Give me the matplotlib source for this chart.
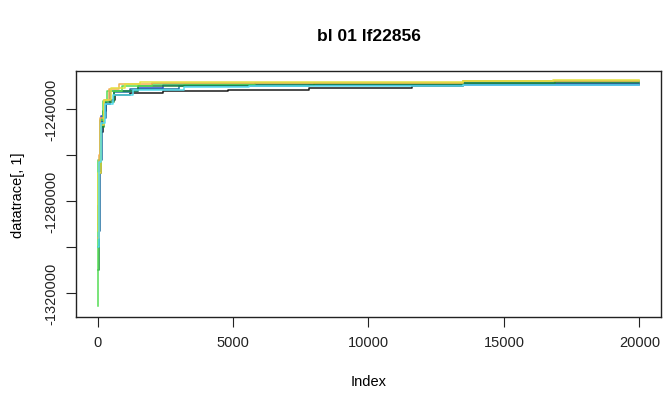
import matplotlib
matplotlib.use("Agg")
import matplotlib.pyplot as plt

# ---------------------------------------------------------------
# traces: (index, value) breakpoints of the step curves
# ---------------------------------------------------------------
trace_colors = ["#1a1a1a", "#3344cc", "#1f6fa0", "#1e8a3c",
                "#55dd55", "#f0b050", "#e4e040", "#55ddee"]

black_idx = [0, 40, 110, 180, 300, 450, 650, 1200, 2400, 4800, 7800, 11600, 13500, 20000]
black_val = [-1300000, -1268000, -1250000, -1241000, -1238000, -1236000, -1233800,
             -1233000, -1232300, -1231700, -1231000, -1230100, -1229200, -1229200]

blue_idx = [0, 60, 130, 140, 260, 450, 1500, 2400, 20000]
blue_val = [-1290000, -1262000, -1257000, -1243000, -1238000, -1232300, -1231000,
            -1229700, -1229700]

teal_idx = [0, 20, 80, 150, 300, 600, 1200, 3000, 7800, 11600, 13200, 13500, 20000]
teal_val = [-1282000, -1293000, -1262000, -1244000, -1236000, -1232500, -1231500,
            -1229900, -1229700, -1229600, -1229600, -1228900, -1228900]

dgreen_idx = [0, 50, 130, 250, 600, 1500, 3200, 8000, 13500, 16900, 20000]
dgreen_val = [-1310000, -1265000, -1248000, -1237000, -1232000, -1229900, -1229400,
              -1229100, -1228900, -1228400, -1228400]

lgreen_idx = [0, 30, 90, 180, 350, 900, 2000, 5800, 13500, 20000]
lgreen_val = [-1325600, -1262000, -1245000, -1236500, -1232000, -1230000, -1229100,
              -1228800, -1228000, -1228000]

orange_idx = [0, 40, 100, 220, 400, 800, 2000, 6000, 13500, 20000]
orange_val = [-1296000, -1260000, -1244000, -1236000, -1231500, -1229200, -1228900,
              -1228600, -1227800, -1227800]

yellow_idx = [0, 30, 110, 250, 500, 1000, 1550, 13500, 16800, 20000]
yellow_val = [-1293000, -1268000, -1247000, -1236000, -1231000, -1229000, -1228400,
              -1227800, -1227400, -1227400]

cyan_idx = [0, 50, 140, 280, 550, 1300, 3200, 5600, 13500, 20000]
cyan_val = [-1300000, -1263000, -1246000, -1238000, -1234000, -1231800, -1230600,
            -1229800, -1229600, -1229600]

traces = [(black_idx, black_val), (blue_idx, blue_val), (teal_idx, teal_val),
          (dgreen_idx, dgreen_val), (lgreen_idx, lgreen_val), (orange_idx, orange_val),
          (yellow_idx, yellow_val), (cyan_idx, cyan_val)]

x_ticks = [0, 5000, 10000, 15000, 20000]
y_ticks = [-1320000, -1300000, -1280000, -1260000, -1240000]
y_labels = ["-1320000", "", "-1280000", "", "-1240000"]

plt.rcParams["font.family"] = ["Liberation Sans", "DejaVu Sans"]

fig = plt.figure(figsize=(6.72, 4.14), dpi=100)
ax = fig.add_axes([0.1131, 0.2319, 0.8705, 0.5942])

for (idx, val), col in zip(traces, trace_colors):
    ax.plot(idx, val, drawstyle="steps-post", color=col, linewidth=1.1)

ax.set_xlim(-800, 20800)
ax.set_ylim(-1330435, -1223478)
ax.set_xticks(x_ticks)
ax.set_xticklabels([str(t) for t in x_ticks])
ax.set_yticks(y_ticks)
ax.set_yticklabels(y_labels, rotation=90, va="center")
ax.tick_params(direction="out", length=7, width=0.8, labelsize=10.5, pad=6,
               colors="#222222")

for s in ax.spines.values():
    s.set_linewidth(1.0)
    s.set_color("#222222")

ax.set_xlabel("Index", fontsize=10.5, labelpad=18)
ax.set_ylabel("datatrace[, 1]", fontsize=10.5, labelpad=14)
ax.set_title("bl 01 lf22856", fontsize=12.5, fontweight="bold", pad=22)

fig.savefig("out.png", dpi=100)
